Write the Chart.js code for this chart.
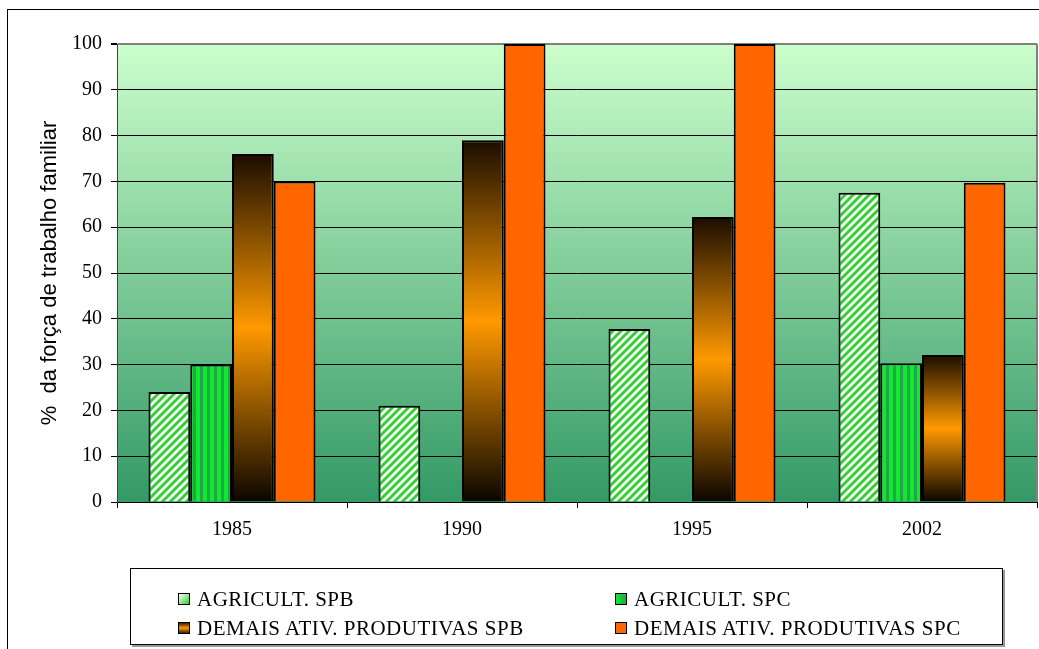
<!DOCTYPE html>
<html>
<head>
<meta charset="utf-8">
<script src="https://cdn.jsdelivr.net/npm/chart.js@4.4.0/dist/chart.umd.min.js"></script>
<style>
body { margin: 0; background: #fff; }
#wrap { position: relative; width: 1039px; height: 649px; overflow: hidden; }
#frame { position: absolute; left: 7px; top: 9px; width: 1100px; height: 700px; border-left: 1px solid #000; border-top: 1px solid #000; }
#habitChart { position: absolute; left: 0; top: 0; }
#legend { position: absolute; left: 130px; top: 568px; width: 871px; height: 75px; border: 1px solid #000; box-shadow: 2px 2px 0 #999; background: #fff;
  font-family: "Liberation Serif", serif; font-size: 21px; letter-spacing: 0.5px; color: #000; }
.item { position: absolute; display: flex; align-items: center; white-space: nowrap; height: 24px; }
.box { width: 10px; height: 10px; border: 1px solid #000; margin-right: 7px; }
</style>
</head>
<body>
<div id="wrap">
  <div id="frame"></div>
  <canvas id="habitChart" width="1039" height="649"></canvas>
  <div id="legend"></div>
</div>
<script>
const categories = ['1985', '1990', '1995', '2002'];
const agricSPB = [24, 21, 37.8, 67.5];
const agricSPC = [30, null, null, 30.3];
const demaisSPB = [76, 79, 62.2, 32.1];
const demaisSPC = [70, 100, 100, 69.7];
const seriesNames = ['AGRICULT. SPB', 'AGRICULT. SPC', 'DEMAIS ATIV. PRODUTIVAS SPB', 'DEMAIS ATIV. PRODUTIVAS SPC'];

function diagPattern() {
    const c = document.createElement('canvas');
    c.width = 8; c.height = 8;
    const g = c.getContext('2d');
    g.fillStyle = '#f2fff2';
    g.fillRect(0, 0, 8, 8);
    g.strokeStyle = '#33cc33';
    g.lineWidth = 2.8;
    g.beginPath();
    g.moveTo(-2, 2); g.lineTo(2, -2);
    g.moveTo(0, 8); g.lineTo(8, 0);
    g.moveTo(6, 10); g.lineTo(10, 6);
    g.stroke();
    return g.createPattern(c, 'repeat');
}

function stripePattern() {
    const c = document.createElement('canvas');
    c.width = 7; c.height = 4;
    const g = c.getContext('2d');
    g.fillStyle = '#12e834';
    g.fillRect(0, 0, 7, 4);
    g.fillStyle = '#20a843';
    g.fillRect(4, 0, 3, 4);
    return g.createPattern(c, 'repeat');
}

function darkOrange(ctx) {
    const chart = ctx.chart;
    const y = chart.scales && chart.scales.y;
    if (!y || ctx.raw == null) return '#ff9900';
    const top = y.getPixelForValue(ctx.raw);
    const bot = y.getPixelForValue(0);
    if (!Number.isFinite(top) || !Number.isFinite(bot)) return '#ff9900';
    const grad = chart.ctx.createLinearGradient(0, top, 0, bot);
    grad.addColorStop(0, '#1a0d00');
    grad.addColorStop(0.5, '#ff9900');
    grad.addColorStop(1, '#0a0500');
    return grad;
}

const plotBg = {
    id: 'plotBg',
    beforeDraw(chart) {
        const { ctx, chartArea: a } = chart;
        const grad = ctx.createLinearGradient(0, a.top, 0, a.bottom);
        grad.addColorStop(0, '#ccffcc');
        grad.addColorStop(1, '#339966');
        ctx.save();
        ctx.fillStyle = grad;
        ctx.fillRect(a.left, a.top, a.right - a.left, a.bottom - a.top);
        ctx.strokeStyle = '#808080';
        ctx.lineWidth = 2;
        ctx.beginPath();
        ctx.moveTo(a.right, a.top);
        ctx.lineTo(a.right, a.bottom);
        ctx.stroke();
        ctx.restore();
    }
};

const colors = [diagPattern(), stripePattern(), darkOrange, '#ff6600'];
const legendBg = [
    'linear-gradient(135deg, #ffffff, #33cc33)',
    'linear-gradient(90deg, #12e834, #20a843)',
    'linear-gradient(180deg, #3a1d00, #ff9900, #3a1d00)',
    '#ff6600'
];

document.addEventListener("DOMContentLoaded", function () {
    const ctx = document.getElementById('habitChart').getContext('2d');
    const data = [agricSPB, agricSPC, demaisSPB, demaisSPC];

    new Chart(ctx, {
        type: 'bar',
        data: {
            labels: categories,
            datasets: data.map((d, i) => ({
                label: seriesNames[i],
                data: d,
                backgroundColor: colors[i],
                borderColor: '#000',
                borderWidth: 2,
                categoryPercentage: 0.726,
                barPercentage: 1
            }))
        },
        options: {
            responsive: false,
            animation: false,
            layout: { padding: { top: 44, right: 2, left: 0, bottom: 0 } },
            plugins: {
                legend: { display: false },
                tooltip: { enabled: false }
            },
            scales: {
                x: {
                    offset: true,
                    grid: { offset: true, drawOnChartArea: false, drawTicks: true, tickLength: 6, color: '#000' },
                    border: { color: '#000', width: 1 },
                    ticks: { color: '#000', padding: 10, font: { family: 'Liberation Serif', size: 20 } },
                    afterFit: s => { s.height = 147; }
                },
                y: {
                    min: 0,
                    max: 100,
                    ticks: { stepSize: 10, color: '#000', padding: 9, font: { family: 'Liberation Serif', size: 20 } },
                    grid: {
                        color: c => (c.tick && c.tick.value === 100) ? '#808080' : '#000',
                        lineWidth: c => (c.tick && c.tick.value === 100) ? 2 : 1,
                        tickColor: '#000',
                        tickLength: 6
                    },
                    border: { color: '#404040', width: 1 },
                    title: {
                        display: true,
                        text: '%  da força de trabalho familiar',
                        color: '#000',
                        font: { family: 'Liberation Sans', size: 22 },
                        padding: { top: 37, bottom: 0 }
                    },
                    afterFit: s => { s.width = 117; }
                }
            }
        },
        plugins: [plotBg]
    });

    const legend = document.getElementById('legend');
    const pos = [[47, 18], [484, 18], [47, 47], [484, 47]];
    seriesNames.forEach((name, i) => {
        const item = document.createElement('div');
        item.className = 'item';
        item.style.left = pos[i][0] + 'px';
        item.style.top = pos[i][1] + 'px';
        item.innerHTML = '<span class="box" style="background:' + legendBg[i] + '"></span><span>' + name + '</span>';
        legend.appendChild(item);
    });
});
</script>
</body>
</html>
